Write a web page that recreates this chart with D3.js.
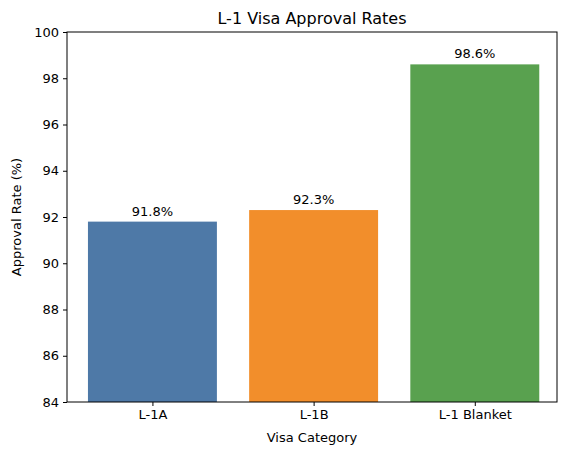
<!DOCTYPE html>
<html><head><meta charset="utf-8">
<script src="https://cdn.jsdelivr.net/npm/d3@7"></script>
<style>body{margin:0;background:#fff}text{font-family:"DejaVu Sans",sans-serif}</style>
</head><body><svg id="c" width="571" height="455"></svg>
<script>
const categories = ["L-1A", "L-1B", "L-1 Blanket"];
const values = [91.8, 92.3, 98.6];
const colors = ["#4e79a7", "#f28e2b", "#59a14f"];
const yTicks = [84, 86, 88, 90, 92, 94, 96, 98, 100];

const svg = d3.select("#c");
const L = 67, R = 557, T = 32, B = 402;
const x = d3.scaleLinear().domain([-0.53, 2.51]).range([L, R]);
const y = d3.scaleLinear().domain([84, 100]).range([B, T]);
const bw = x(0.4) - x(-0.4);

svg.selectAll("rect.bar").data(values).enter().append("rect")
  .attr("x", (d, i) => x(i) - bw / 2).attr("width", bw)
  .attr("y", d => y(d)).attr("height", d => y(84) - y(d))
  .attr("fill", (d, i) => colors[i]);

svg.selectAll("text.lbl").data(values).enter().append("text")
  .attr("x", (d, i) => x(i)).attr("y", d => y(d) - 6)
  .attr("text-anchor", "middle").attr("font-size", 13).text(d => d.toFixed(1) + "%");

const ya = svg.append("g").attr("transform", `translate(${L},0)`)
  .call(d3.axisLeft(y).tickValues(yTicks).tickSize(4).tickPadding(4));
const xa = svg.append("g").attr("transform", `translate(0,${B})`)
  .call(d3.axisBottom(x).tickValues([0, 1, 2]).tickFormat(i => categories[i]).tickSize(4).tickPadding(4));
[ya, xa].forEach(g => { g.selectAll("text").attr("font-size", 13).attr("fill", "#000").style("font-family", "DejaVu Sans"); g.select(".domain").remove(); g.selectAll("line").attr("stroke", "#000"); });

svg.append("rect").attr("x", L).attr("y", T).attr("width", R - L).attr("height", B - T)
  .attr("fill", "none").attr("stroke", "#000").attr("stroke-width", 1);

svg.append("text").attr("x", (L + R) / 2).attr("y", T - 8).attr("text-anchor", "middle")
  .attr("font-size", 16).text("L-1 Visa Approval Rates");
svg.append("text").attr("x", (L + R) / 2).attr("y", 442).attr("text-anchor", "middle")
  .attr("font-size", 13).text("Visa Category");
svg.append("text").attr("transform", `translate(21,${(T + B) / 2}) rotate(-90)`)
  .attr("text-anchor", "middle").attr("font-size", 13).text("Approval Rate (%)");
</script></body></html>
